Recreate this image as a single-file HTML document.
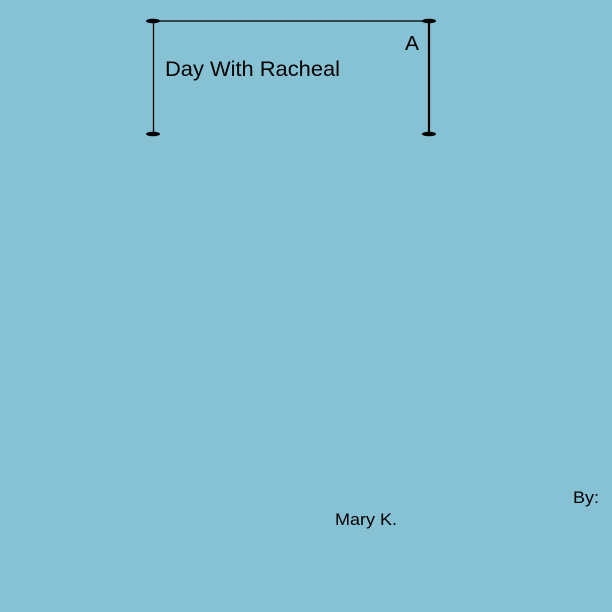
<!DOCTYPE html>
<html><head><style>
html,body{margin:0;padding:0;background:#86c1d4;width:612px;height:612px;overflow:hidden}
svg{position:absolute;left:0;top:0}
</style></head><body>
<svg width="612" height="612" xmlns="http://www.w3.org/2000/svg" font-family="Liberation Sans, sans-serif">
<rect width="612" height="612" fill="#86c1d4"/>
<line x1="153" y1="21" x2="429" y2="21" stroke="#000" stroke-width="1.3"/>
<line x1="153.5" y1="21" x2="153.5" y2="134" stroke="#000" stroke-width="1.3"/>
<line x1="429" y1="21" x2="429" y2="134" stroke="#000" stroke-width="2.2"/>
<ellipse cx="153" cy="21" rx="7" ry="2.3" fill="#000"/>
<ellipse cx="429" cy="21" rx="7" ry="2.3" fill="#000"/>
<ellipse cx="153" cy="134" rx="7" ry="2.3" fill="#000"/>
<ellipse cx="429" cy="134" rx="7" ry="2.3" fill="#000"/>
<text x="405" y="50" font-size="20" textLength="14" lengthAdjust="spacingAndGlyphs">A</text>
<text x="165" y="76" font-size="21" textLength="175" lengthAdjust="spacingAndGlyphs">Day With Racheal</text>
<text x="573" y="503" font-size="17" textLength="26" lengthAdjust="spacingAndGlyphs">By:</text>
<text x="335" y="525" font-size="17" textLength="62" lengthAdjust="spacingAndGlyphs">Mary K.</text>
</svg>
</body></html>
